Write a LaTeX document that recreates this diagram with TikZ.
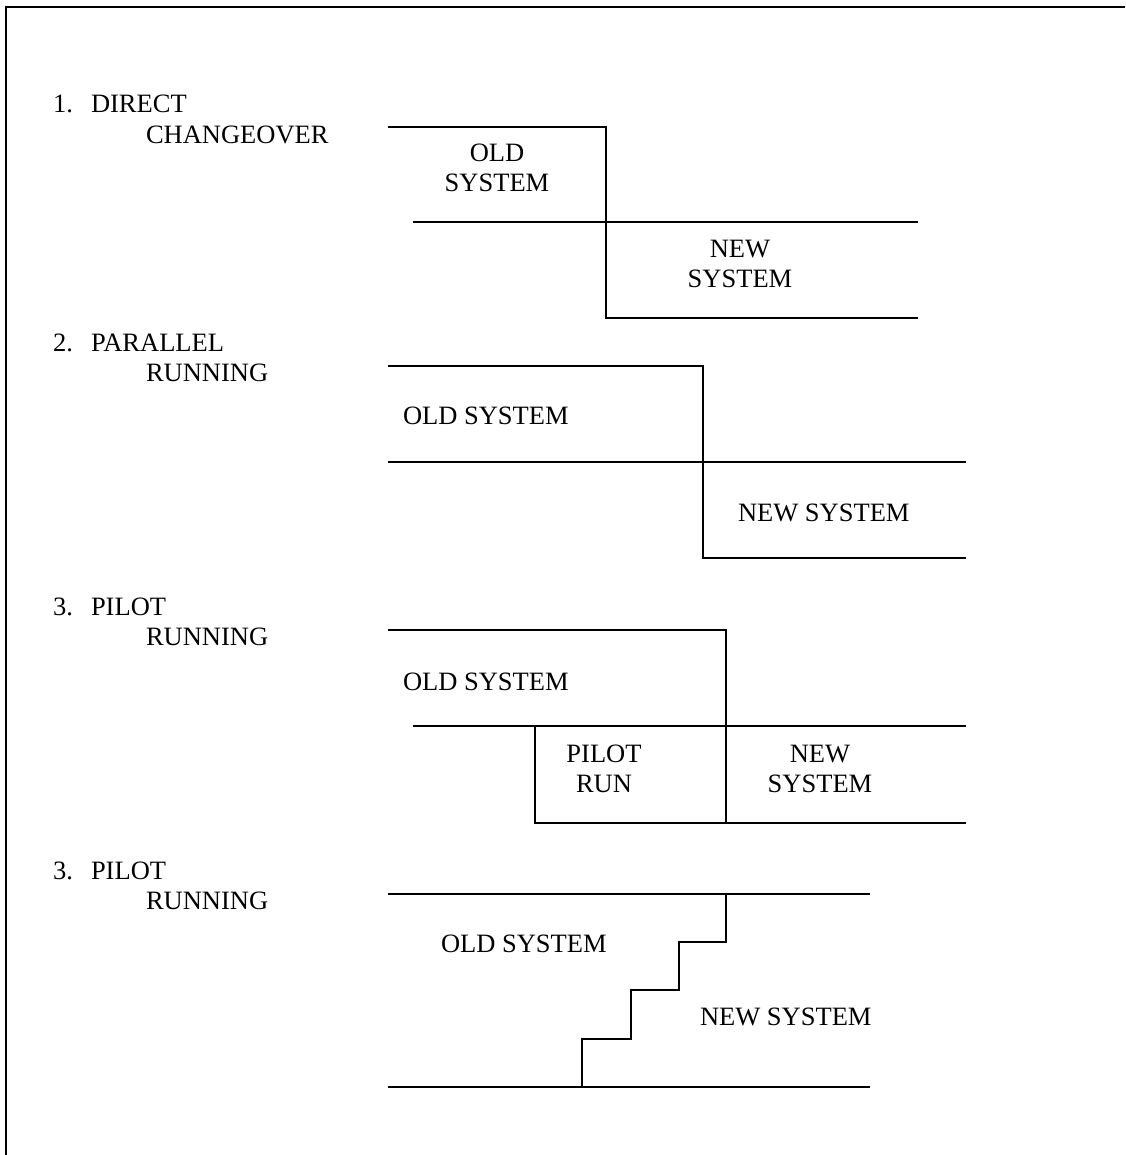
\documentclass[tikz,border=0pt]{standalone}
\usepackage{fontspec}
\setmainfont{Liberation Serif}

\begin{document}
\begin{tikzpicture}[x=1pt,y=-1pt,line width=2pt,
		lbl/.style={inner sep=0pt,font=\fontsize{26.5}{30.5}\selectfont},
		boxtext/.style={lbl,align=center}]
		\newcommand\methodtitle[5]{ %% argument 1: name, 2: baseline, 3: number, 4: first word, 5: second word
			\node[lbl,anchor=base west] (#1num) at (52,#2) {#3.};
			\node[lbl,anchor=base west] (#1top) at (90,#2) {#4};
			\node[lbl,anchor=base west] (#1bot) at (145,#2+30.5) {#5};
		}
		\useasboundingbox (0,0) rectangle (1125,1155);
		
		%% frame
		\draw (6,1155) -- (6,7) -- (1125,7);
		
		%% 1. direct changeover
		\methodtitle{direct}{113}{1}{DIRECT}{CHANGEOVER}
		\draw (388,127) -- (606,127) -- (606,318) -- (918,318);
		\draw (413,222) -- (918,222);
		\node[boxtext] (old1) at (497,168) {OLD\\SYSTEM};
		\node[boxtext] (new1) at (740,264) {NEW\\SYSTEM};
		
		%% 2. parallel running
		\methodtitle{parallel}{351}{2}{PARALLEL}{RUNNING}
		\draw (388,366) -- (703,366) -- (703,558) -- (966,558);
		\draw (388,462) -- (966,462);
		\node[lbl,anchor=west] (old2) at (402,416) {OLD SYSTEM};
		\node[lbl,anchor=west] (new2) at (737,513) {NEW SYSTEM};
		
		%% 3. pilot running
		\methodtitle{pilot}{615}{3}{PILOT}{RUNNING}
		\draw (388,630) -- (726,630) -- (726,823);
		\draw (413,726) -- (966,726);
		\draw (535,726) -- (535,823) -- (966,823);
		\node[lbl,anchor=west] (old3) at (402,682) {OLD SYSTEM};
		\node[boxtext] (pilot3) at (604,769) {PILOT\\RUN};
		\node[boxtext] (new3) at (820,769) {NEW\\SYSTEM};
		
		%% 3. pilot running (phased)
		\methodtitle{phased}{879}{3}{PILOT}{RUNNING}
		\draw (388,894) -- (870,894);
		\draw (388,1087) -- (870,1087);
		\draw (582,1087) -- (582,1039) -- (631,1039) -- (631,990) -- (679,990) -- (679,942) -- (726,942) -- (726,894);
		\node[lbl,anchor=west] (old4) at (440,944) {OLD SYSTEM};
		\node[lbl,anchor=west] (new4) at (699,1017) {NEW SYSTEM};
	\end{tikzpicture}
\end{document}
